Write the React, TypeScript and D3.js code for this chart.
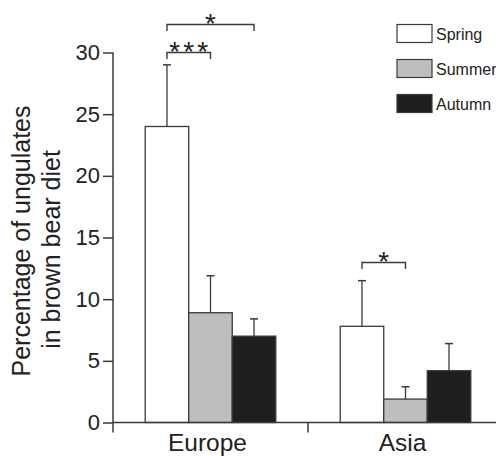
import React, { useEffect, useRef } from "react";
import * as d3 from "d3";

const regions = ["Europe", "Asia"];
const seasons = ["Spring", "Summer", "Autumn"];
const europeMeans = [24.0, 8.9, 7.0];
const europeErrors = [5.0, 3.0, 1.4];
const asiaMeans = [7.8, 1.9, 4.2];
const asiaErrors = [3.7, 1.0, 2.2];
const yTicks = [0, 5, 10, 15, 20, 25, 30];
const yLabelLines = ["Percentage of ungulates", "in brown bear diet"];
// [region, from season, to season, stars]
const brackets: [string, string, string, string][] = [
  ["Europe", "Spring", "Autumn", "*"],
  ["Europe", "Spring", "Summer", "***"],
  ["Asia", "Spring", "Summer", "*"],
];

const fills: Record<string, string> = { Spring: "#ffffff", Summer: "#bebebe", Autumn: "#1f1f1f" };
const FONT = "'Liberation Sans', Arial, Helvetica, sans-serif";
const W = 496;
const H = 456;

export default function App() {
  const ref = useRef<HTMLDivElement>(null);

  useEffect(() => {
    if (!ref.current) return;
    ref.current.innerHTML = "";

    const svg = d3
      .select(ref.current)
      .append("svg")
      .attr("width", W)
      .attr("height", H)
      .style("display", "block")
      .style("font-family", FONT);

    const rows = regions.map((r, i) => {
      const means = i === 0 ? europeMeans : asiaMeans;
      const errs = i === 0 ? europeErrors : asiaErrors;
      return seasons.map((s, j) => ({ region: r, season: s, mean: means[j], err: errs[j] }));
    });

    const y = d3.scaleLinear().domain([0, 30]).range([422.5, 52.5]);
    const x = d3.scaleBand().domain(regions).range([113, 503]).padding(0);
    const xs = d3
      .scaleBand()
      .domain(seasons)
      .range([0, x.bandwidth()])
      .paddingInner(0)
      .paddingOuter(0.74);

    const ink = "#3a3a3a";

    // bars
    rows.flat().forEach((d) => {
      const bx = x(d.region)! + xs(d.season)!;
      const cx = bx + xs.bandwidth() / 2;
      svg
        .append("rect")
        .attr("x", bx)
        .attr("y", y(d.mean))
        .attr("width", xs.bandwidth())
        .attr("height", y(0) - y(d.mean))
        .attr("fill", fills[d.season])
        .attr("stroke", ink)
        .attr("stroke-width", 1.3);
      svg
        .append("line")
        .attr("x1", cx)
        .attr("x2", cx)
        .attr("y1", y(d.mean))
        .attr("y2", y(d.mean + d.err))
        .attr("stroke", ink)
        .attr("stroke-width", 1.3);
      svg
        .append("line")
        .attr("x1", cx - 4)
        .attr("x2", cx + 4)
        .attr("y1", y(d.mean + d.err))
        .attr("y2", y(d.mean + d.err))
        .attr("stroke", ink)
        .attr("stroke-width", 1.5);
    });

    // y axis
    const yAxis = svg
      .append("g")
      .attr("transform", "translate(113,0)")
      .call(d3.axisLeft(y).tickValues(yTicks).tickSize(10).tickSizeOuter(0).tickPadding(3));
    yAxis.select(".domain").remove();
    yAxis.selectAll("line").attr("stroke", ink).attr("stroke-width", 1.5);
    yAxis
      .selectAll("text")
      .attr("fill", "#222")
      .style("font-size", "22px")
      .style("font-family", FONT);
    svg
      .append("line")
      .attr("x1", 113)
      .attr("x2", 113)
      .attr("y1", y(30))
      .attr("y2", y(0) + 10)
      .attr("stroke", ink)
      .attr("stroke-width", 1.5);

    // x axis
    svg
      .append("line")
      .attr("x1", 113)
      .attr("x2", W)
      .attr("y1", y(0))
      .attr("y2", y(0))
      .attr("stroke", ink)
      .attr("stroke-width", 1.5);
    regions.slice(1).forEach((r) => {
      svg
        .append("line")
        .attr("x1", x(r)!)
        .attr("x2", x(r)!)
        .attr("y1", y(0))
        .attr("y2", y(0) + 10)
        .attr("stroke", ink)
        .attr("stroke-width", 1.5);
    });
    regions.forEach((r) => {
      svg
        .append("text")
        .attr("x", x(r)! + x.bandwidth() / 2 - 3)
        .attr("y", 450.5)
        .attr("text-anchor", "middle")
        .attr("fill", "#222")
        .style("font-size", "24.5px")
        .text(r);
    });

    // y label
    const labelPos = [
      [30, 241],
      [60, 249.5],
    ];
    yLabelLines.forEach((t, i) => {
      svg
        .append("text")
        .attr("transform", `translate(${labelPos[i][0]},${labelPos[i][1]}) rotate(-90)`)
        .attr("text-anchor", "middle")
        .attr("fill", "#222")
        .style("font-size", "25px")
        .text(t);
    });

    // significance brackets
    const bracketY = [24.5, 52.5, 262.5];
    brackets.forEach(([r, a, b, stars], i) => {
      const x1 = x(r)! + xs(a)! + xs.bandwidth() / 2;
      const x2 = x(r)! + xs(b)! + xs.bandwidth() / 2;
      const by = bracketY[i];
      svg
        .append("path")
        .attr("d", `M${x1},${by + 6.5}V${by}H${x2}V${by + 6.5}`)
        .attr("fill", "none")
        .attr("stroke", ink)
        .attr("stroke-width", 1.4);
      const n = stars.length;
      const mid = (x1 + x2) / 2;
      d3.range(n).forEach((k) => {
        svg
          .append("text")
          .attr("x", mid + (k - (n - 1) / 2) * 14)
          .attr("y", by + 8.5)
          .attr("text-anchor", "middle")
          .attr("fill", "#222")
          .style("font-size", "28px")
          .text("*");
      });
    });

    // legend
    seasons.forEach((s, i) => {
      const ly = 24.5 + i * 35;
      svg
        .append("rect")
        .attr("x", 397)
        .attr("y", ly)
        .attr("width", 35)
        .attr("height", 18)
        .attr("fill", fills[s])
        .attr("stroke", ink)
        .attr("stroke-width", 1.2);
      svg
        .append("text")
        .attr("x", 436)
        .attr("y", ly + 15)
        .attr("fill", "#222")
        .style("font-size", "16px")
        .text(s);
    });
  }, []);

  return <div ref={ref} style={{ position: "absolute", left: 0, top: 0 }} />;
}
